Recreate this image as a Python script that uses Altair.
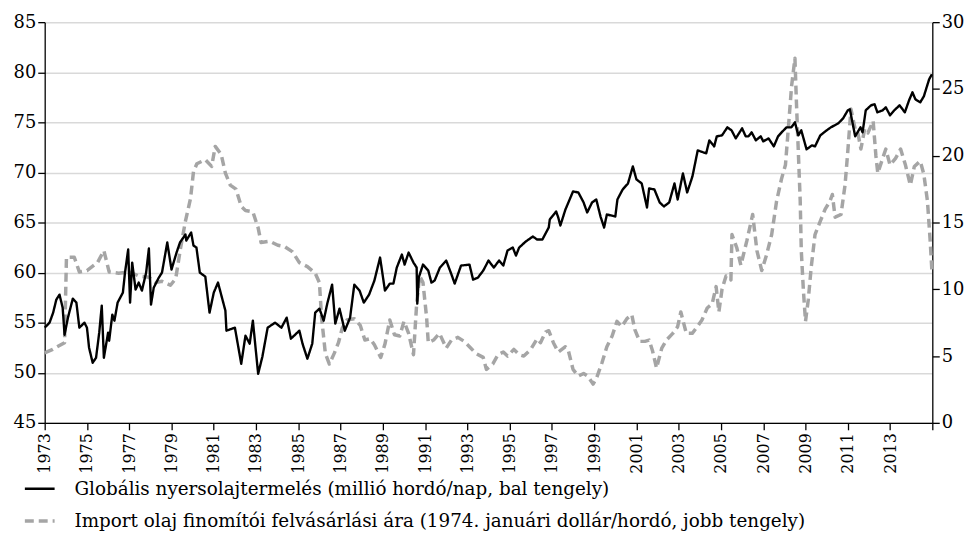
import altair as alt
import pandas as pd

# Global crude oil production (million barrels/day, left axis)
prod_t = [1973.0, 1973.23, 1973.4, 1973.55, 1973.7, 1973.85, 1973.94, 1974.1, 1974.33, 1974.5,
          1974.64, 1974.88, 1975.0, 1975.1, 1975.27, 1975.43, 1975.58, 1975.7, 1975.8, 1976.0,
          1976.05, 1976.2, 1976.3, 1976.45, 1976.7, 1976.8, 1976.95, 1977.04, 1977.14, 1977.3,
          1977.45, 1977.6, 1977.8, 1977.93, 1978.03, 1978.16, 1978.4, 1978.55, 1978.8, 1979.0,
          1979.24, 1979.4, 1979.66, 1979.7, 1979.93, 1980.04, 1980.18, 1980.34, 1980.6, 1980.8,
          1981.0, 1981.2, 1981.55, 1981.6, 1982.0, 1982.3, 1982.5, 1982.7, 1982.85, 1983.1,
          1983.3, 1983.55, 1983.9, 1984.2, 1984.45, 1984.65, 1985.05, 1985.2, 1985.43, 1985.66,
          1985.8, 1986.0, 1986.2, 1986.37, 1986.6, 1986.75, 1986.95, 1987.2, 1987.45, 1987.65,
          1987.9, 1988.1, 1988.35, 1988.6, 1988.87, 1989.1, 1989.33, 1989.5, 1989.66, 1989.9,
          1990.03, 1990.22, 1990.45, 1990.6, 1990.63, 1990.7, 1990.9, 1991.15, 1991.3, 1991.45,
          1991.7, 1992.0, 1992.25, 1992.4, 1992.7, 1993.1, 1993.27, 1993.5, 1993.75, 1994.0,
          1994.25, 1994.5, 1994.7, 1994.9, 1995.15, 1995.3, 1995.45, 1995.76, 1996.1, 1996.3,
          1996.55, 1996.85, 1996.9, 1997.2, 1997.3, 1997.4, 1997.64, 1997.78, 1998.0, 1998.25,
          1998.5, 1998.67, 1998.9, 1999.1, 1999.3, 1999.47, 1999.6, 2000.0, 2000.1, 2000.35,
          2000.6, 2000.83, 2001.0, 2001.25, 2001.5, 2001.6, 2001.85, 2002.1, 2002.3, 2002.55,
          2002.8, 2002.95, 2003.2, 2003.4, 2003.65, 2003.9, 2004.3, 2004.45, 2004.68, 2004.8,
          2005.05, 2005.3, 2005.5, 2005.7, 2006.0, 2006.17, 2006.3, 2006.45, 2006.65, 2006.88,
          2007.0, 2007.25, 2007.5, 2007.7, 2007.87, 2008.1, 2008.33, 2008.5, 2008.66, 2008.8,
          2009.05, 2009.3, 2009.45, 2009.7, 2010.0, 2010.2, 2010.55, 2010.78, 2011.0, 2011.1,
          2011.35, 2011.6, 2011.7, 2011.85, 2012.1, 2012.27, 2012.4, 2012.65, 2012.8, 2013.0,
          2013.2, 2013.45, 2013.7, 2013.9, 2014.06, 2014.2, 2014.43, 2014.6, 2014.85, 2014.98]
prod_v = [54.5, 55.0, 56.0, 57.3, 57.8, 56.5, 53.8, 55.5, 57.4, 57.0,
          54.5, 55.0, 54.5, 52.5, 51.0, 51.5, 54.0, 56.7, 51.5, 54.0,
          53.2, 55.8, 55.2, 57.0, 58.0, 60.0, 62.3, 57.0, 61.0, 58.3,
          59.0, 58.2, 60.0, 62.4, 56.8, 58.5, 59.5, 60.0, 63.0, 60.3,
          62.0, 63.0, 63.8, 63.2, 64.0, 62.7, 62.5, 60.0, 59.6, 56.0,
          58.0, 59.0, 56.2, 54.2, 54.5, 50.9, 53.7, 52.9, 55.2, 49.9,
          51.6, 54.5, 55.0, 54.5, 55.5, 53.4, 54.2, 52.9, 51.4, 52.9,
          56.0, 56.4, 55.2, 56.9, 58.8, 54.9, 56.4, 54.2, 55.5, 58.8,
          58.2, 57.0, 57.8, 59.2, 61.5, 58.2, 58.9, 58.9, 60.5, 61.8,
          60.8, 62.0, 61.0, 60.5, 56.9, 59.5, 60.8, 60.2, 59.0, 59.2,
          60.5, 61.2, 59.8, 58.9, 60.7, 60.8, 59.3, 59.5, 60.2, 61.2,
          60.5, 61.2, 60.7, 62.2, 62.5, 61.7, 62.5, 63.1, 63.6, 63.3,
          63.3, 64.5, 65.3, 66.1, 65.5, 64.7, 66.3, 67.0, 68.1, 68.0,
          67.0, 66.0, 67.0, 67.3, 65.6, 64.5, 65.8, 65.6, 67.3, 68.3,
          68.9, 70.6, 69.3, 68.9, 66.5, 68.4, 68.3, 67.0, 66.6, 67.0,
          68.9, 67.3, 69.9, 68.0, 69.6, 72.2, 71.9, 73.2, 72.6, 73.6,
          73.7, 74.5, 74.2, 73.4, 74.4, 73.6, 73.6, 74.0, 73.2, 73.6,
          73.1, 73.4, 72.6, 73.6, 74.0, 74.5, 74.5, 75.0, 73.7, 74.2,
          72.3, 72.7, 72.6, 73.7, 74.2, 74.5, 74.9, 75.4, 76.2, 76.3,
          73.6, 74.5, 74.0, 76.2, 76.7, 76.8, 76.0, 76.2, 76.5, 75.7,
          76.2, 76.7, 76.0, 77.2, 78.0, 77.3, 77.0, 77.6, 79.3, 79.8]

# Refiner acquisition cost of imported oil (Jan 1974 dollars/barrel, right axis)
price_t = [1973.0, 1973.38, 1973.94, 1974.03, 1974.4, 1974.64, 1975.0, 1975.5, 1975.8, 1976.05,
           1976.5, 1977.0, 1977.45, 1977.93, 1978.25, 1978.55, 1978.95, 1979.2, 1979.43, 1979.66,
           1979.9, 1980.04, 1980.2, 1980.6, 1980.9, 1981.07, 1981.35, 1981.55, 1981.78, 1982.05,
           1982.3, 1982.5, 1982.85, 1983.1, 1983.24, 1983.65, 1984.03, 1984.35, 1984.73, 1985.05,
           1985.43, 1985.8, 1986.0, 1986.1, 1986.28, 1986.47, 1986.7, 1986.9, 1987.08, 1987.3,
           1987.65, 1987.93, 1988.15, 1988.4, 1988.6, 1988.9, 1989.1, 1989.33, 1989.55, 1989.8,
           1990.0, 1990.22, 1990.45, 1990.6, 1990.74, 1990.9, 1991.07, 1991.15, 1991.4, 1991.68,
           1992.0, 1992.25, 1992.55, 1992.85, 1993.1, 1993.4, 1993.75, 1993.9, 1994.2, 1994.45,
           1994.7, 1994.9, 1995.2, 1995.45, 1995.67, 1996.0, 1996.3, 1996.46, 1996.7, 1996.85,
           1997.07, 1997.3, 1997.64, 1997.78, 1998.0, 1998.25, 1998.5, 1998.7, 1998.95, 1999.1,
           1999.37, 1999.6, 1999.85, 2000.08, 2000.3, 2000.55, 2000.78, 2000.92, 2001.15, 2001.4,
           2001.6, 2001.76, 2001.95, 2002.2, 2002.42, 2002.72, 2002.95, 2003.1, 2003.36, 2003.64,
           2003.88, 2004.1, 2004.35, 2004.58, 2004.77, 2004.9, 2005.05, 2005.24, 2005.47, 2005.52,
           2005.75, 2005.94, 2006.22, 2006.5, 2006.7, 2006.93, 2007.16, 2007.4, 2007.63, 2007.87,
           2008.05, 2008.2, 2008.34, 2008.5, 2008.57, 2008.66, 2008.75, 2008.8, 2008.9, 2009.0,
           2009.13, 2009.27, 2009.45, 2009.7, 2009.93, 2010.16, 2010.27, 2010.4, 2010.68, 2010.87,
           2011.0, 2011.15, 2011.35, 2011.48, 2011.62, 2011.8, 2011.95, 2012.2, 2012.33, 2012.42,
           2012.65, 2012.8, 2013.0, 2013.26, 2013.5, 2013.73, 2013.96, 2014.15, 2014.43, 2014.6,
           2014.77, 2014.9, 2014.98]
price_v = [5.24, 5.5, 6.0, 12.4, 12.4, 11.3, 11.4, 12.0, 12.9, 11.3,
           11.2, 11.3, 11.0, 10.9, 10.5, 10.6, 10.3, 10.8, 13.1, 15.1,
           16.8, 18.8, 19.4, 19.7, 19.2, 20.7, 20.1, 18.7, 17.8, 17.5,
           16.2, 15.9, 15.8, 14.6, 13.5, 13.6, 13.3, 13.2, 12.8, 12.0,
           11.7, 11.2, 10.5, 7.9, 5.2, 4.4, 5.2, 6.0, 7.1, 7.7,
           7.8, 7.3, 6.2, 6.3, 5.85, 4.9, 5.9, 7.7, 6.6, 6.5,
           7.6, 6.7, 5.1, 8.9, 11.0, 10.5, 7.9, 6.0, 6.2, 6.7,
           5.6, 6.2, 6.4, 6.1, 5.7, 5.2, 4.9, 4.0, 4.4, 5.1,
           5.3, 5.0, 5.5, 5.1, 5.0, 5.5, 6.3, 6.0, 6.8, 6.9,
           6.0, 5.3, 5.7, 5.4, 4.0, 3.5, 3.7, 3.5, 2.9, 3.3,
           4.5, 5.7, 6.5, 7.6, 7.2, 7.8, 8.1, 7.0, 6.1, 6.1,
           6.2, 5.4, 4.1, 5.6, 6.2, 6.7, 7.2, 8.3, 6.7, 6.7,
           7.2, 7.7, 8.6, 8.9, 10.2, 8.3, 10.0, 11.0, 10.7, 14.1,
           13.1, 11.8, 13.6, 15.6, 12.9, 11.4, 12.6, 14.1, 16.6, 18.3,
           19.3, 22.3, 25.2, 27.3, 24.0, 20.3, 16.6, 12.9, 9.9, 7.6,
           9.2, 11.65, 14.1, 15.1, 16.0, 16.6, 17.1, 15.4, 15.6, 17.8,
           20.3, 23.5, 22.0, 21.7, 20.5, 22.0, 21.7, 22.6, 20.0, 18.7,
           19.8, 20.5, 19.3, 19.8, 20.5, 19.3, 17.8, 19.2, 19.6, 18.6,
           16.6, 13.6, 11.4]

year_ticks = list(range(1973, 2016, 2))
left_ticks = [45, 50, 55, 60, 65, 70, 75, 80, 85]
right_ticks = [0, 5, 10, 15, 20, 25, 30]

s1 = "Globális nyersolajtermelés (millió hordó/nap, bal tengely)"
s2 = "Import olaj finomítói felvásárlási ára (1974. januári dollár/hordó, jobb tengely)"

df1 = pd.DataFrame({"t": prod_t, "v": prod_v, "s": s1})
df2 = pd.DataFrame({"t": price_t, "v": price_v, "s": s2})

FONT = "DejaVu Serif"

color_enc = alt.Color("s:N", title=None,
                      scale=alt.Scale(domain=[s1, s2], range=["#000000", "#a5a5a5"]))
dash_enc = alt.StrokeDash("s:N", title=None,
                          scale=alt.Scale(domain=[s1, s2], range=[[1, 0], [9, 5]]))
width_enc = alt.StrokeWidth("s:N", title=None,
                            scale=alt.Scale(domain=[s1, s2], range=[2.4, 3.5]))

x_enc = alt.X("t:Q",
              scale=alt.Scale(domain=[1973, 2015], nice=False, zero=False),
              axis=alt.Axis(values=year_ticks,
                            labelExpr="datum.value <= 2013 ? '' + datum.value : ''",
                            labelAngle=-90, labelFontSize=16, labelPadding=3,
                            grid=False, title=None))

price_layer = alt.Chart(df2).mark_line(strokeJoin="round").encode(
    x=x_enc,
    y=alt.Y("v:Q",
            scale=alt.Scale(domain=[0, 30], nice=False, zero=False),
            axis=alt.Axis(orient="right", values=right_ticks, grid=False, title=None)),
    color=color_enc, strokeDash=dash_enc, strokeWidth=width_enc,
)

prod_layer = alt.Chart(df1).mark_line(strokeJoin="round").encode(
    x=x_enc,
    y=alt.Y("v:Q",
            scale=alt.Scale(domain=[45, 85], nice=False, zero=False),
            axis=alt.Axis(orient="left", values=left_ticks, grid=True,
                          gridColor="#d9d9d9", gridWidth=1.5, title=None)),
    color=color_enc, strokeDash=dash_enc, strokeWidth=width_enc,
)

chart = alt.layer(price_layer, prod_layer).resolve_scale(
    y="independent"
).properties(
    width=895, height=404,
    autosize=alt.AutoSizeParams(type="none"),
    padding={"left": 37, "top": 12, "right": 38, "bottom": 135},
).configure_view(
    stroke=None
).configure_axis(
    labelFont=FONT, labelFontSize=18, labelColor="#000000",
    domainColor="#000000", domainWidth=1.3,
    tickColor="#000000", tickWidth=1.3, tickSize=7,
    labelPadding=2,
).configure_legend(
    orient="none", legendX=-22, legendY=454,
    direction="vertical",
    symbolType="stroke", symbolSize=900,
    labelFont=FONT, labelFontSize=18.5, labelColor="#000000",
    labelLimit=0, labelOffset=18, rowPadding=6,
)

chart.save("out.html", embed_options={"renderer": "svg", "actions": False})
